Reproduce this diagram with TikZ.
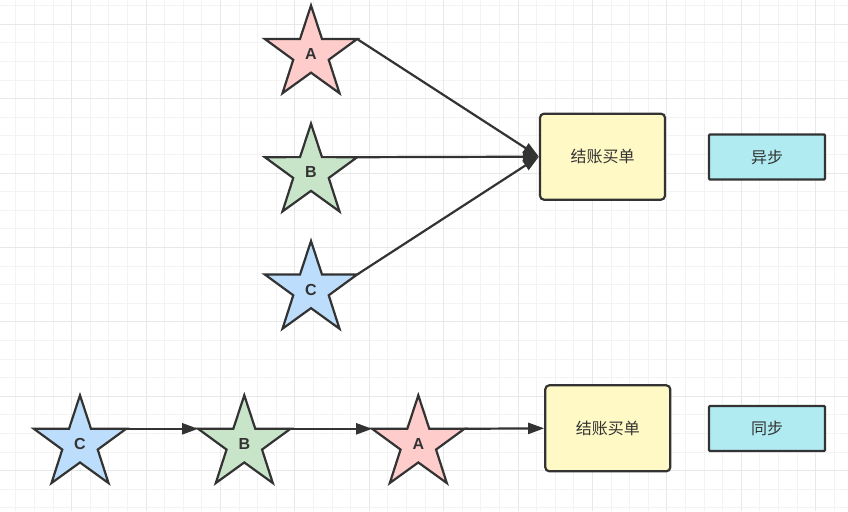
\documentclass[tikz,border=0pt]{standalone}
\usepackage{fontspec}
\setmainfont{Liberation Sans}
\newfontfamily\cjk{Noto Sans CJK SC}
\usetikzlibrary{shapes.geometric,arrows.meta}
\definecolor{strokec}{HTML}{333333}
\definecolor{textc}{HTML}{333333}
\definecolor{pinkc}{HTML}{FFCCCC}
\definecolor{greenc}{HTML}{C9E5C9}
\definecolor{bluec}{HTML}{BCDDFB}
\definecolor{yellowc}{HTML}{FFF9C5}
\definecolor{cyanc}{HTML}{B0EBF2}
\definecolor{gridminor}{HTML}{F3F3F3}
\definecolor{gridmajor}{HTML}{E8E8E8}
\begin{document}
\begin{tikzpicture}[x=1pt,y=-1pt,
  minorg/.style={draw=gridminor,line width=1pt},
  majorg/.style={draw=gridmajor,line width=1pt},
  starnode/.style={star,star points=5,star point ratio=2.6,minimum size=97pt,
    inner sep=0pt,outer sep=0pt,draw=strokec,line width=2.2pt,
    font=\fontsize{16}{18}\selectfont\bfseries,text=textc},
  ybox/.style={draw=strokec,line width=2.2pt,fill=yellowc,rounded corners=4pt,
    minimum width=125pt,minimum height=86pt,inner sep=0pt,
    font=\cjk\fontsize{16}{18}\selectfont,text=textc},
  cbox/.style={draw=strokec,line width=2.2pt,fill=cyanc,rounded corners=1pt,
    minimum width=116pt,minimum height=45pt,inner sep=0pt,
    font=\cjk\fontsize{16}{18}\selectfont,text=textc},
  arr/.style={draw=strokec,line width=2.2pt,-{Triangle[length=16pt,width=11pt]}}]
\useasboundingbox (0,0) rectangle (848,511);
\fill[white] (0,0) rectangle (848,511);
% grid
\foreach \i in {-3,...,41} \draw[minorg] ({71.7+18.6*\i},0) -- ({71.7+18.6*\i},511);
\foreach \j in {-1,...,26} \draw[minorg] (0,{24.3+18.6*\j}) -- (848,{24.3+18.6*\j});
\foreach \i in {0,...,10} \draw[majorg] ({71.7+74.4*\i},0) -- ({71.7+74.4*\i},511);
\foreach \j in {0,...,6} \draw[majorg] (0,{24.3+74.4*\j}) -- (848,{24.3+74.4*\j});
% top group
\node[starnode,fill=pinkc] (sA) at (311,54) {A};
\node[starnode,fill=greenc] (sB) at (311,172.2) {B};
\node[starnode,fill=bluec] (sC) at (311,289.5) {C};
\node[ybox] (pay1) at (602.5,156.7) {结账买单};
\node[cbox] (async) at (767,157) {异步};
\draw[arr] (sA.outer point 5) -- (pay1.west);
\draw[arr] (sB.outer point 5) -- (pay1.west);
\draw[arr] (sC.outer point 5) -- (pay1.west);
% bottom group
\node[starnode,fill=bluec] (tC) at (80,443.8) {C};
\node[starnode,fill=greenc] (tB) at (244.3,443.8) {B};
\node[starnode,fill=pinkc] (tA) at (418.3,443.8) {A};
\node[ybox] (pay2) at (607.8,428.3) {结账买单};
\node[cbox] (sync) at (767,428.5) {同步};
\draw[arr] (tC.outer point 5) -- (tB.outer point 2);
\draw[arr] (tB.outer point 5) -- (tA.outer point 2);
\draw[arr] (tA.outer point 5) -- (pay2.west);
\end{tikzpicture}
\end{document}
